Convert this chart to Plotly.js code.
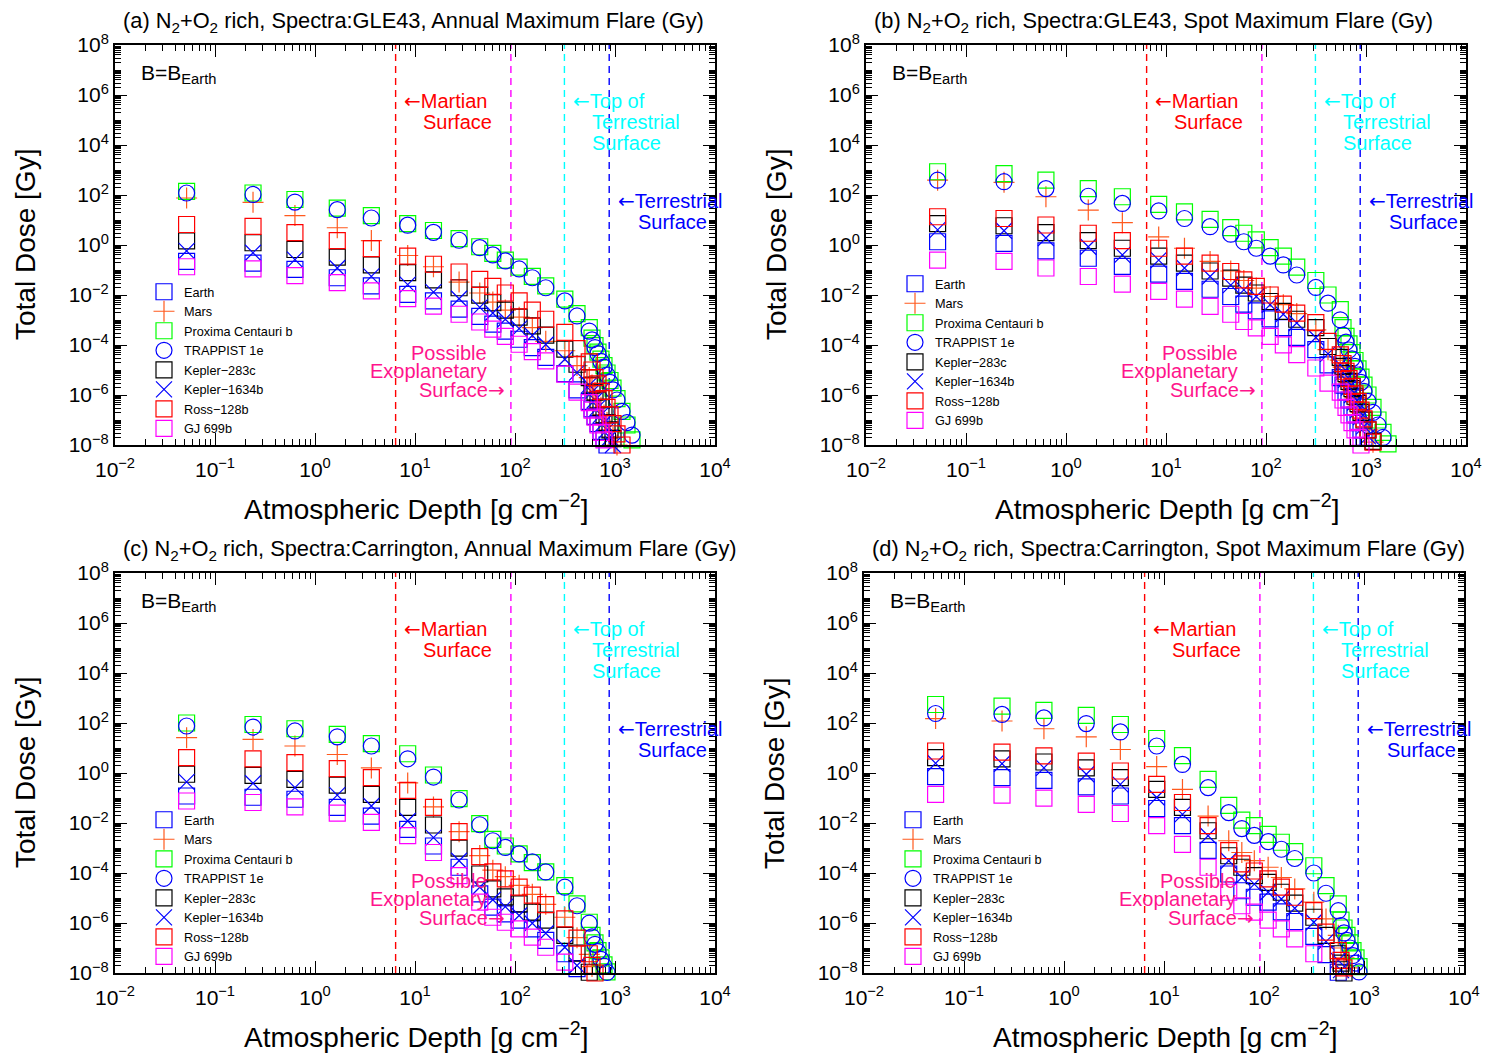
<!DOCTYPE html>
<html>
<head>
<meta charset="utf-8">
<script src="https://cdn.plot.ly/plotly-3.0.1.min.js"></script>
<style>
  html, body { margin: 0; padding: 0; background: #ffffff; }
  #chart { width: 1505px; height: 1055px; }
</style>
</head>
<body>
<div id="chart"></div>
<script>
// Atmospheric depth levels [g cm^-2]
const depthGrid = [0.052, 0.24, 0.63, 1.67, 3.66, 8.45, 15.3, 27.6, 44.4, 60, 80, 110, 149, 203, 315, 417, 553,
  589, 631, 676, 724, 776, 832, 891, 955, 1047, 1175, 1318, 1479, 1660];

const planetNames = ['Earth', 'Mars', 'Proxima Centauri b', 'TRAPPIST 1e', 'Kepler\u2212283c', 'Kepler\u22121634b', 'Ross\u2212128b', 'GJ 699b'];

// (a) Spectra GLE43, annual maximum flare: total dose [Gy]
const aEarth = [2.2e-1, 1.9e-1, 1.05e-1, 4.9e-2, 2.3e-2, 1.05e-2, 5.8e-3, 2.7e-3, 1.4e-3, 6.8e-4, 3.6e-4, 1.7e-4, 7.9e-5, 3.2e-5, 7.1e-6, 1.6e-6, 5.6e-7, 2.8e-7, 1.4e-7, 7.1e-8, 3.5e-8, 1.8e-8, 1.0e-8];
const aMars = [76, 51, 15, 4.9, 1.5, 3.8e-1, 1.35e-1, 3.3e-2, 1.2e-2, 5.2e-3, 2.5e-3, 1.3e-3, 5.0e-4, 1.4e-4, 5.9e-5, 1.5e-5, 5.0e-6, 2.5e-6, 1.3e-6, 6.3e-7, 3.2e-7, 1.6e-7, 7.9e-8, 4.0e-8, 2.0e-8, 1.0e-8];
const aProxima = [1.4e2, 1.2e2, 66, 30, 15, 7.1, 3.8, 1.8, 8.5e-1, 4.6e-1, 2.5e-1, 1.3e-1, 5.6e-2, 2.3e-2, 6.8e-3, 1.8e-3, 5.0e-4, 1.9e-4, 9.5e-5, 5.2e-5, 2.7e-5, 1.5e-5, 7.6e-6, 3.8e-6, 1.9e-6, 7.1e-7, 2.2e-7, 6.3e-8, 1.6e-8];
const aTrappist = [1.2e2, 1.05e2, 52, 26, 12, 6.2, 3.2, 1.55, 7.8e-1, 4.0e-1, 2.3e-1, 1.1e-1, 4.9e-2, 1.95e-2, 5.8e-3, 1.45e-3, 3.6e-4, 1.6e-4, 7.9e-5, 4.5e-5, 2.2e-5, 1.3e-5, 6.3e-6, 3.2e-6, 1.6e-6, 6.3e-7, 2.2e-7, 7.9e-8, 2.5e-8, 8.9e-9];
const aKepler283 = [1.45, 1.23, 6.6e-1, 3.3e-1, 1.6e-1, 7.8e-2, 4.0e-2, 1.95e-2, 9.8e-3, 4.9e-3, 2.5e-3, 1.3e-3, 5.8e-4, 2.5e-4, 6.8e-5, 1.7e-5, 5.0e-6, 2.5e-6, 1.3e-6, 6.3e-7, 3.2e-7, 1.6e-7, 7.9e-8, 4.0e-8, 1.8e-8, 8.9e-9];
const aKepler1634 = [5.8e-1, 4.9e-1, 2.6e-1, 1.2e-1, 5.6e-2, 2.6e-2, 1.3e-2, 7.1e-3, 3.2e-3, 1.9e-3, 1.07e-3, 4.5e-4, 2.4e-4, 1.05e-4, 2.7e-5, 7.9e-6, 2.5e-6, 1.3e-6, 6.3e-7, 3.2e-7, 1.6e-7, 7.9e-8, 4.0e-8, 2.0e-8, 1.0e-8];
const aRoss = [6.6, 5.6, 3.1, 1.5, 7.2e-1, 3.6e-1, 1.7e-1, 8.3e-2, 4.2e-2, 2.2e-2, 1.2e-2, 5.8e-3, 2.5e-3, 1.07e-3, 3.2e-4, 7.2e-5, 2.1e-5, 1.0e-5, 5.0e-6, 2.8e-6, 1.4e-6, 7.1e-7, 3.2e-7, 1.6e-7, 7.1e-8, 2.8e-8, 1.0e-8];
const aGJ699 = [1.35e-1, 1.1e-1, 6.0e-2, 3.1e-2, 1.45e-2, 7.1e-3, 3.6e-3, 1.7e-3, 8.3e-4, 4.3e-4, 2.2e-4, 1.07e-4, 5.4e-5, 2.3e-5, 6.9e-6, 1.3e-6, 5.0e-7, 2.5e-7, 1.3e-7, 6.3e-8, 3.2e-8, 1.6e-8, 7.9e-9];

// (b) Spectra GLE43, spot maximum flare
const bEarth = [1.35, 1.17, 5.8e-1, 2.95e-1, 1.4e-1, 6.8e-2, 3.5e-2, 1.7e-2, 8.7e-3, 4.3e-3, 2.3e-3, 1.1e-3, 5.0e-4, 2.0e-4, 6.5e-5, 1.6e-5, 5.0e-6, 2.5e-6, 1.3e-6, 6.3e-7, 3.2e-7, 1.6e-7, 7.9e-8, 4.0e-8, 2.0e-8, 8.9e-9];
const bMars = [3.9e2, 3.2e2, 85, 25, 7.8, 2.1, 7.4e-1, 2.2e-1, 9.1e-2, 3.8e-2, 1.9e-2, 8.7e-3, 4.1e-3, 1.8e-3, 4.0e-4, 6.5e-5, 2.5e-5, 1.3e-5, 6.3e-6, 3.2e-6, 1.6e-6, 7.9e-7, 4.0e-7, 2.0e-7, 1.0e-7, 4.0e-8, 1.3e-8];
const bProxima = [8.5e2, 7.2e2, 3.9e2, 1.8e2, 85, 42, 21, 10.5, 5.0, 2.95, 1.6, 7.8e-1, 3.6e-1, 1.3e-1, 3.8e-2, 1.0e-2, 2.6e-3, 5.0e-4, 2.2e-4, 1.1e-4, 5.0e-5, 2.4e-5, 1.1e-5, 5.2e-6, 2.5e-6, 1.0e-6, 3.2e-7, 1.0e-7, 3.2e-8, 1.1e-8];
const bTrappist = [3.9e2, 3.4e2, 1.8e2, 89, 46, 23, 11.5, 5.4, 2.7, 1.35, 7.4e-1, 3.6e-1, 1.6e-1, 6.3e-2, 2.0e-2, 4.7e-3, 1.02e-3, 2.5e-4, 1.3e-4, 6.3e-5, 2.8e-5, 1.4e-5, 6.3e-6, 3.2e-6, 1.4e-6, 5.6e-7, 2.0e-7, 6.3e-8, 2.0e-8, 8.9e-9];
const bKepler283 = [7.2, 5.9, 3.1, 1.5, 7.4e-1, 3.6e-1, 1.9e-1, 9.1e-2, 4.7e-2, 2.5e-2, 1.2e-2, 5.5e-3, 2.2e-3, 1.07e-3, 5.0e-4, 8.7e-5, 3.2e-5, 1.4e-5, 7.1e-6, 3.5e-6, 1.8e-6, 8.9e-7, 4.5e-7, 2.0e-7, 1.0e-7, 4.0e-8, 1.4e-8];
const bKepler1634 = [4.0, 3.7, 1.9, 8.5e-1, 4.0e-1, 2.5e-1, 1.2e-1, 5.5e-2, 2.5e-2, 1.6e-2, 8.7e-3, 4.1e-3, 1.7e-3, 7.6e-4, 2.0e-4, 4.4e-5, 1.6e-5, 7.9e-6, 4.0e-6, 2.0e-6, 1.0e-6, 5.0e-7, 2.5e-7, 1.3e-7, 5.6e-8, 2.2e-8, 8.9e-9];
const bRoss = [13.5, 11.5, 6.3, 2.95, 1.5, 7.4e-1, 3.6e-1, 1.9e-1, 8.7e-2, 4.0e-2, 2.2e-2, 1.0e-2, 4.3e-3, 1.9e-3, 7.9e-4, 1.4e-4, 4.0e-5, 1.8e-5, 8.9e-6, 4.5e-6, 2.2e-6, 1.1e-6, 5.6e-7, 2.5e-7, 1.1e-7, 4.0e-8, 1.3e-8];
const bGJ699 = [2.5e-1, 2.2e-1, 1.2e-1, 5.5e-2, 2.7e-2, 1.4e-2, 6.8e-3, 3.5e-3, 1.7e-3, 8.7e-4, 4.8e-4, 2.2e-4, 1.02e-4, 4.1e-5, 1.2e-5, 3.0e-6, 1.3e-6, 6.3e-7, 3.2e-7, 1.6e-7, 7.9e-8, 4.0e-8, 2.0e-8, 1.0e-8];

// (c) Spectra Carrington, annual maximum flare
const cEarth = [1.2e-1, 1.07e-1, 8.9e-2, 4.2e-2, 1.9e-2, 5.6e-3, 1.2e-3, 1.7e-4, 1.45e-5, 4.3e-6, 2.3e-6, 1.3e-6, 5.8e-7, 2.0e-7, 5.9e-8, 1.5e-8];
const cMars = [26, 22, 12, 5.5, 1.6, 4.0e-1, 4.4e-2, 4.5e-3, 5.0e-4, 1.3e-4, 7.1e-5, 3.2e-5, 1.4e-5, 5.6e-6, 1.7e-6, 2.6e-7, 5.6e-8, 1.8e-8];
const cProxima = [1.0e2, 87, 59, 35, 15, 5.9, 8.3e-1, 9.5e-2, 9.5e-3, 2.2e-3, 1.2e-3, 5.8e-4, 2.6e-4, 1.1e-4, 3.1e-5, 5.8e-6, 1.07e-6, 3.2e-7, 1.6e-7, 7.9e-8, 4.0e-8, 2.1e-8, 1.1e-8];
const cTrappist = [76, 69, 48, 28, 12, 3.7, 6.9e-1, 8.3e-2, 8.5e-3, 1.95e-3, 1.05e-3, 5.8e-4, 2.8e-4, 1.1e-4, 2.7e-5, 4.9e-6, 9.8e-7, 2.8e-7, 1.4e-7, 7.1e-8, 3.5e-8, 1.9e-8, 1.05e-8];
const cKepler283 = [8.9e-1, 8.1e-1, 5.6e-1, 3.3e-1, 1.4e-1, 4.2e-2, 8.3e-3, 9.8e-4, 9.1e-5, 2.3e-5, 1.1e-5, 5.8e-6, 2.7e-6, 1.3e-6, 3.2e-7, 6.2e-8, 1.07e-8];
const cKepler1634 = [4.4e-1, 3.9e-1, 2.6e-1, 1.3e-1, 4.8e-2, 1.2e-2, 2.6e-3, 3.1e-4, 2.7e-5, 8.5e-6, 4.5e-6, 2.0e-6, 9.8e-7, 3.9e-7, 1.07e-7, 2.0e-8];
const cRoss = [4.1, 3.7, 2.6, 1.5, 6.5e-1, 2.0e-1, 4.2e-2, 4.5e-3, 4.5e-4, 1.1e-4, 5.8e-5, 2.7e-5, 1.3e-5, 5.4e-6, 1.45e-6, 2.5e-7, 5.9e-8, 2.0e-8, 1.0e-8];
const cGJ699 = [7.6e-2, 6.6e-2, 4.4e-2, 2.5e-2, 1.05e-2, 3.1e-3, 6.6e-4, 7.8e-5, 6.8e-6, 1.7e-6, 1.07e-6, 5.8e-7, 2.7e-7, 1.07e-7, 2.7e-8];

// (d) Spectra Carrington, spot maximum flare
const dEarth = [7.1e-1, 6.5e-1, 5.1e-1, 2.8e-1, 1.2e-1, 3.8e-2, 7.8e-3, 8.1e-4, 9.1e-5, 1.95e-5, 1.07e-5, 6.8e-6, 2.8e-6, 1.15e-6, 2.9e-7, 5.4e-8, 1.07e-8];
const dMars = [1.5e2, 1.2e2, 59, 28, 8.7, 1.8, 2.2e-1, 1.9e-2, 1.95e-3, 6.6e-4, 3.1e-4, 1.7e-4, 6.6e-5, 2.3e-5, 6.8e-6, 1.45e-6, 3.2e-7, 1.0e-7, 4.0e-8, 1.6e-8];
const dProxima = [5.5e2, 4.7e2, 3.2e2, 2.0e2, 87, 24, 5.0, 5.6e-1, 5.1e-2, 1.3e-2, 7.8e-3, 3.5e-3, 1.7e-3, 7.1e-4, 1.95e-4, 3.1e-5, 5.8e-6, 1.3e-6, 6.3e-7, 3.2e-7, 1.6e-7, 7.9e-8, 4.0e-8, 1.8e-8];
const dTrappist = [2.4e2, 2.2e2, 1.6e2, 95, 44, 12, 2.2, 2.6e-1, 2.6e-2, 6.0e-3, 3.2e-3, 1.8e-3, 8.9e-4, 3.8e-4, 1.0e-4, 1.55e-5, 3.1e-6, 7.9e-7, 4.0e-7, 2.0e-7, 1.0e-7, 5.0e-8, 2.5e-8, 1.1e-8];
const dKepler283 = [4.1, 3.7, 2.75, 1.6, 6.5e-1, 2.2e-1, 4.2e-2, 4.9e-3, 4.9e-4, 1.7e-4, 7.8e-5, 4.2e-5, 1.7e-5, 6.2e-6, 1.7e-6, 3.2e-7, 5.9e-8, 2.5e-8, 1.0e-8];
const dKepler1634 = [2.45, 2.35, 1.6, 8.9e-1, 3.5e-1, 1.05e-1, 2.2e-2, 3.1e-3, 3.1e-4, 6.6e-5, 3.6e-5, 1.7e-5, 9.1e-6, 3.9e-6, 1.07e-6, 1.8e-7, 3.2e-8, 1.3e-8];
const dRoss = [7.6, 6.9, 4.8, 3.0, 1.2, 3.5e-1, 6.6e-2, 7.8e-3, 7.8e-4, 2.3e-4, 1.2e-4, 5.8e-5, 2.7e-5, 1.07e-5, 3.1e-6, 4.3e-7, 7.9e-8, 3.2e-8, 1.6e-8];
const dGJ699 = [1.4e-1, 1.3e-1, 9.8e-2, 5.6e-2, 2.4e-2, 7.8e-3, 1.4e-3, 1.7e-4, 1.7e-5, 4.9e-6, 2.7e-6, 1.3e-6, 5.8e-7, 2.3e-7, 5.9e-8];

// Reference surface depths [g cm^-2]: Martian, possible exoplanetary, top of terrestrial, terrestrial
const surfaceDepths = [6.4, 91, 312, 875];
const surfaceColors = ['#ff0000', '#ff00ff', '#00ffff', '#0000ff'];

// Decade tick labels
const xTickVals = [1e-2, 1e-1, 1e0, 1e1, 1e2, 1e3, 1e4];
const xTickText = ['10<sup>\u22122</sup>', '10<sup>\u22121</sup>', '10<sup>0</sup>', '10<sup>1</sup>', '10<sup>2</sup>', '10<sup>3</sup>', '10<sup>4</sup>'];
const yTickVals = [1e-8, 1e-6, 1e-4, 1e-2, 1e0, 1e2, 1e4, 1e6, 1e8];
const yTickText = ['10<sup>\u22128</sup>', '10<sup>\u22126</sup>', '10<sup>\u22124</sup>', '10<sup>\u22122</sup>', '10<sup>0</sup>', '10<sup>2</sup>', '10<sup>4</sup>', '10<sup>6</sup>', '10<sup>8</sup>'];

const panelTitles = [
  '(a) N<sub>2</sub>+O<sub>2</sub> rich, Spectra:GLE43, Annual Maximum Flare (Gy)',
  '(b) N<sub>2</sub>+O<sub>2</sub> rich, Spectra:GLE43, Spot Maximum Flare (Gy)',
  '(c) N<sub>2</sub>+O<sub>2</sub> rich, Spectra:Carrington, Annual Maximum Flare (Gy)',
  '(d) N<sub>2</sub>+O<sub>2</sub> rich, Spectra:Carrington, Spot Maximum Flare (Gy)'
];

const panelSeries = [
  [aEarth, aMars, aProxima, aTrappist, aKepler283, aKepler1634, aRoss, aGJ699],
  [bEarth, bMars, bProxima, bTrappist, bKepler283, bKepler1634, bRoss, bGJ699],
  [cEarth, cMars, cProxima, cTrappist, cKepler283, cKepler1634, cRoss, cGJ699],
  [dEarth, dMars, dProxima, dTrappist, dKepler283, dKepler1634, dRoss, dGJ699]
];

// ---- layout geometry (pixels) ----
const W = 1505, H = 1055;
const PW = 600, PH = 400;
const origins = [[115, 45], [866, 45], [115, 573], [864, 573]];
const legendOffsetY = [232, 224, 232, 232];
const FONT = 'Liberation Sans, Arial, Helvetica, sans-serif';
const ARROW = '<span style="font-family:DejaVu Sans">';
const px = x => x / W;
const py = y => 1 - y / H;

const markerStyles = [
  { symbol: 'square-open', color: '#0000ff', size: 16 },
  { symbol: 'cross-thin-open', color: '#ff5a1e', size: 15 },
  { symbol: 'square-open', color: '#00ff00', size: 16 },
  { symbol: 'circle-open', color: '#0000ff', size: 16 },
  { symbol: 'square-open', color: '#000000', size: 16 },
  { symbol: 'x-thin-open', color: '#0000ff', size: 16 },
  { symbol: 'square-open', color: '#ff0000', size: 16 },
  { symbol: 'square-open', color: '#ff00ff', size: 16 }
];

// minor ticks: every k*10^n that is not a labelled tick
function minorTicks(lo, hi, majors) {
  const out = [];
  for (let n = lo; n < hi; n++) {
    for (let k = 1; k <= 9; k++) {
      const v = k * Math.pow(10, n);
      if (!majors.some(m => Math.abs(m - v) / v < 1e-9)) out.push(v);
    }
  }
  return out;
}
const xMinor = minorTicks(-2, 4, xTickVals);
const yMinor = minorTicks(-8, 8, yTickVals);

function xAxis(i) {
  const [ox] = origins[i];
  return {
    type: 'log', range: [-2, 4], domain: [px(ox), px(ox + PW)], anchor: 'y' + (i ? i + 1 : ''),
    showline: true, linecolor: '#000', linewidth: 2, mirror: 'ticks',
    ticks: 'inside', ticklen: 12, tickwidth: 1, tickcolor: '#000',
    tickmode: 'array', tickvals: xTickVals, ticktext: xTickText, ticklabelstandoff: 5,
    tickfont: { family: FONT, size: 21, color: '#000' },
    minor: { tickmode: 'array', tickvals: xMinor, ticks: 'inside', ticklen: 6, tickwidth: 1, tickcolor: '#000', showgrid: false },
    showgrid: false, zeroline: false, fixedrange: true
  };
}
function yAxis(i) {
  const [, oy] = origins[i];
  return {
    type: 'log', range: [-8, 8], domain: [py(oy + PH), py(oy)], anchor: 'x' + (i ? i + 1 : ''),
    showline: true, linecolor: '#000', linewidth: 2, mirror: 'ticks',
    ticks: 'inside', ticklen: 12, tickwidth: 1, tickcolor: '#000',
    tickmode: 'array', tickvals: yTickVals, ticktext: yTickText,
    tickfont: { family: FONT, size: 21, color: '#000' },
    minor: { tickmode: 'array', tickvals: yMinor, ticks: 'inside', ticklen: 6, tickwidth: 1, tickcolor: '#000', showgrid: false },
    showgrid: false, zeroline: false, fixedrange: true
  };
}

const traces = [];
const layout = {
  width: W, height: H,
  margin: { l: 0, r: 0, t: 0, b: 0 },
  paper_bgcolor: '#ffffff', plot_bgcolor: '#ffffff',
  font: { family: FONT, color: '#000' },
  showlegend: true,
  annotations: []
};

// label lines next to the dashed surface markers, offsets from the panel corner
const surfaceLabels = [
  { t: ARROW + '\u2190</span>Martian', dx: 287, dy: 56, xa: 'left', c: '#ff0000' },
  { t: 'Surface', dx: 306, dy: 77, xa: 'left', c: '#ff0000' },
  { t: ARROW + '\u2190</span>Top of', dx: 456, dy: 56, xa: 'left', c: '#00ffff' },
  { t: 'Terrestrial', dx: 475, dy: 77, xa: 'left', c: '#00ffff' },
  { t: 'Surface', dx: 475, dy: 98, xa: 'left', c: '#00ffff' },
  { t: ARROW + '\u2190</span>Terrestrial', dx: 501, dy: 156, xa: 'left', c: '#0000ff' },
  { t: 'Surface', dx: 521, dy: 177, xa: 'left', c: '#0000ff' },
  { t: 'Possible', dx: 374, dy: 308, xa: 'right', c: '#ff148c' },
  { t: 'Exoplanetary', dx: 374, dy: 326, xa: 'right', c: '#ff148c' },
  { t: 'Surface' + ARROW + '\u2192</span>', dx: 392, dy: 345, xa: 'right', c: '#ff148c' }
];

function text(t, x, y, xa, ya, size, color, angle) {
  return {
    text: t, x: px(x), y: py(y), xref: 'paper', yref: 'paper', showarrow: false,
    xanchor: xa, yanchor: ya, textangle: angle || 0,
    font: { family: FONT, size: size, color: color }
  };
}

for (let p = 0; p < 4; p++) {
  const sfx = p ? String(p + 1) : '';
  const xa = 'x' + sfx, ya = 'y' + sfx;
  const legendId = 'legend' + sfx;
  const [ox, oy] = origins[p];

  layout['xaxis' + sfx] = xAxis(p);
  layout['yaxis' + sfx] = yAxis(p);

  // dashed vertical surface markers
  surfaceDepths.forEach((d, k) => {
    traces.push({
      type: 'scatter', mode: 'lines', x: [d, d], y: [1e-8, 1e8], xaxis: xa, yaxis: ya,
      line: { color: surfaceColors[k], width: 1.4, dash: '7px,5px' },
      showlegend: false, hoverinfo: 'skip'
    });
  });

  // dose profiles
  panelSeries[p].forEach((dose, i) => {
    const st = markerStyles[i];
    traces.push({
      type: 'scatter', mode: 'markers', name: planetNames[i],
      x: depthGrid.slice(0, dose.length), y: dose, xaxis: xa, yaxis: ya,
      legend: legendId, cliponaxis: false,
      marker: { symbol: st.symbol, size: st.size, color: st.color, line: { color: st.color, width: 1.2 } }
    });
  });

  layout[legendId] = {
    x: px(ox + 29), y: py(oy + legendOffsetY[p]), xanchor: 'left', yanchor: 'top',
    bgcolor: 'rgba(0,0,0,0)', borderwidth: 0, tracegroupgap: 0,
    font: { family: FONT, size: 12.7, color: '#000' }
  };

  const A = layout.annotations;
  A.push(text(panelTitles[p], ox + 6, oy - 23, 'left', 'middle', 21.8, '#000'));
  A.push(text('B=B<sub>Earth</sub>', ox + 24, oy + 14, 'left', 'top', 21, '#000'));
  surfaceLabels.forEach(l => A.push(text(l.t, ox + l.dx, oy + l.dy, l.xa, 'middle', 20, l.c)));
  A.push(text('Total Dose [Gy]', ox - 90, oy + 200, 'center', 'middle', 28, '#000', -90));
  A.push(text('Atmospheric Depth [g cm<sup>\u22122</sup>]', ox + 301, oy + 462, 'center', 'middle', 28, '#000'));
}

Plotly.newPlot('chart', traces, layout, { staticPlot: true, displayModeBar: false });
</script>
</body>
</html>
